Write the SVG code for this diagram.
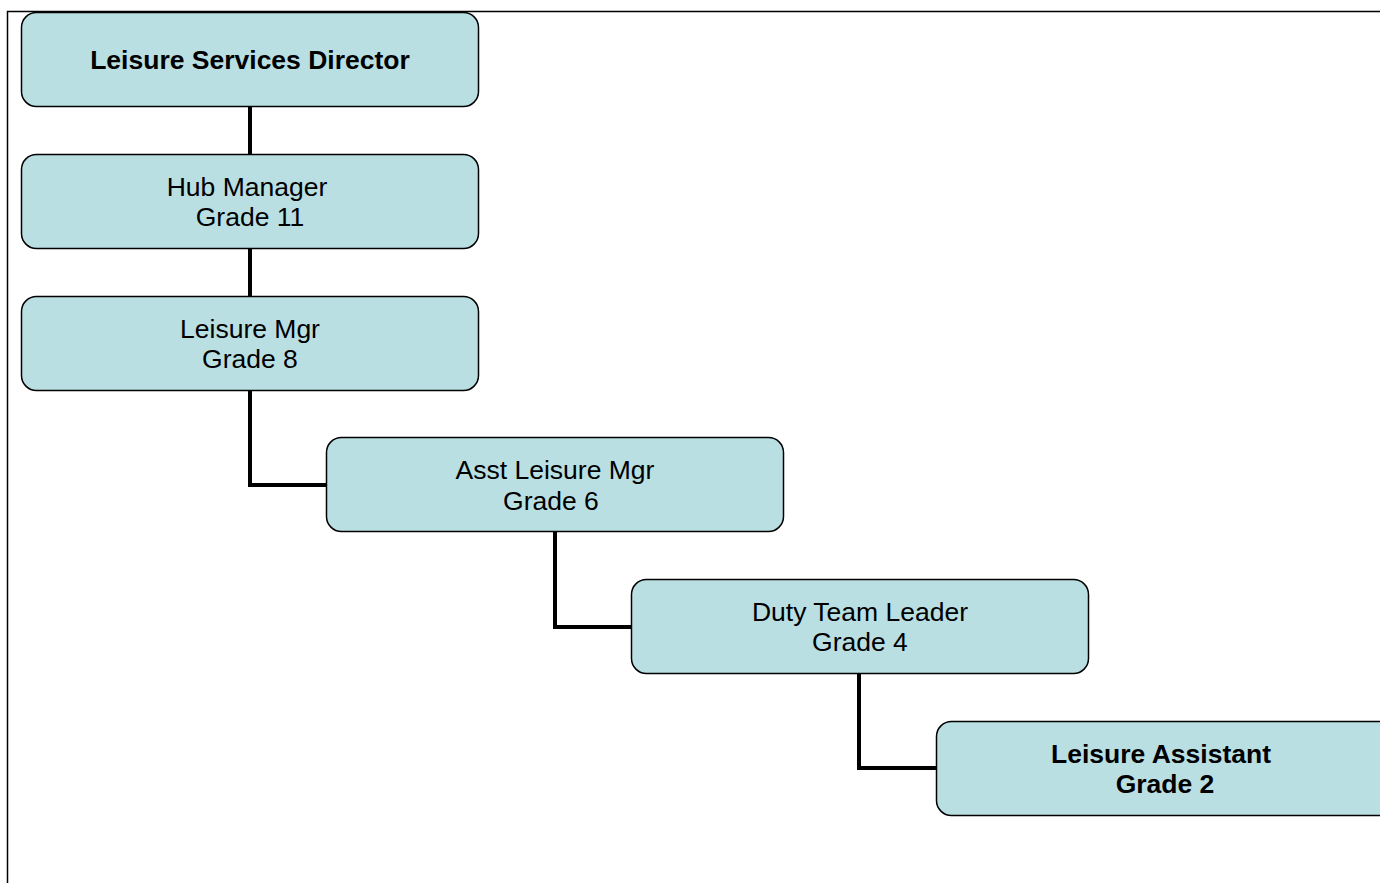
<svg xmlns="http://www.w3.org/2000/svg" width="1380" height="883" viewBox="0 0 1380 883">
<style>
.box{fill:#b9dfe3;stroke:#000;stroke-width:1.5}
.t{font-family:"Liberation Sans",Arial,sans-serif;font-size:26.5px;fill:#000;text-anchor:middle;dominant-baseline:central}
.b{font-weight:bold}
.c{fill:none;stroke:#000;stroke-width:4}
</style>
<rect x="7.5" y="11.5" width="1400" height="900" fill="#fff" stroke="#000" stroke-width="1.5"/>
<g id="connectors">
<path class="c" d="M250 106V154"/>
<path class="c" d="M250 248V296"/>
<path class="c" d="M250 390V485H326"/>
<path class="c" d="M555 531V627H631"/>
<path class="c" d="M859 673V768H936"/>
</g>
<g id="n1"><rect class="box" x="21.5" y="12.5" width="457" height="94" rx="15"/><text class="t b" x="250" y="60">Leisure Services Director</text></g>
<g id="n2"><rect class="box" x="21.5" y="154.5" width="457" height="94" rx="15"/><text class="t" x="247" y="187">Hub Manager</text><text class="t" x="250" y="217">Grade 11</text></g>
<g id="n3"><rect class="box" x="21.5" y="296.5" width="457" height="94" rx="15"/><text class="t" x="250" y="329">Leisure Mgr</text><text class="t" x="250" y="359">Grade 8</text></g>
<g id="n4"><rect class="box" x="326.5" y="437.5" width="457" height="94" rx="15"/><text class="t" x="555" y="470">Asst Leisure Mgr</text><text class="t" x="551" y="501">Grade 6</text></g>
<g id="n5"><rect class="box" x="631.5" y="579.5" width="457" height="94" rx="15"/><text class="t" x="860" y="612">Duty Team Leader</text><text class="t" x="860" y="642">Grade 4</text></g>
<g id="n6"><rect class="box" x="936.5" y="721.5" width="457" height="94" rx="15"/><text class="t b" x="1161" y="754">Leisure Assistant</text><text class="t b" x="1165" y="784">Grade 2</text></g>
</svg>
